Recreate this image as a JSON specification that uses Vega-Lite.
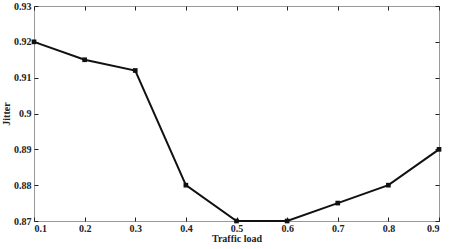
{
  "$schema": "https://vega.github.io/schema/vega-lite/v6.json",
  "width": 405,
  "height": 215,
  "autosize": {"type": "none"},
  "padding": {"left": 34, "top": 6, "right": 10, "bottom": 28},
  "background": "white",
  "data": {"values": [
    {"load": 0.1, "jitter": 0.920},
    {"load": 0.2, "jitter": 0.915},
    {"load": 0.3, "jitter": 0.912},
    {"load": 0.4, "jitter": 0.880},
    {"load": 0.5, "jitter": 0.870},
    {"load": 0.6, "jitter": 0.870},
    {"load": 0.7, "jitter": 0.875},
    {"load": 0.8, "jitter": 0.880},
    {"load": 0.9, "jitter": 0.890}
  ]},
  "config": {
    "view": {"stroke": "#999999", "strokeWidth": 1},
    "axis": {
      "grid": false, "domain": false, "tickColor": "#222", "tickSize": -4,
      "labelFont": "Liberation Serif", "labelFontWeight": "bold", "labelFontSize": 10, "labelColor": "#222",
      "titleFont": "Liberation Serif", "titleFontWeight": "bold", "titleFontSize": 10, "titleColor": "#222"
    }
  },
  "encoding": {
    "x": {"field": "load", "type": "quantitative", "scale": {"domain": [0.1, 0.9], "nice": false, "zero": false}},
    "y": {"field": "jitter", "type": "quantitative", "scale": {"domain": [0.87, 0.93], "nice": false, "zero": false}}
  },
  "layer": [
    {
      "mark": {"type": "line", "color": "#111", "strokeWidth": 2, "point": {"shape": "square", "size": 22, "filled": true, "color": "#111"}},
      "encoding": {
        "x": {"field": "load", "type": "quantitative", "scale": {"domain": [0.1, 0.9], "nice": false, "zero": false},
          "axis": {"title": "Traffic load", "values": [0.1,0.2,0.3,0.4,0.5,0.6,0.7,0.8,0.9], "labelPadding": 6, "titlePadding": 0, "format": ".1~f"}},
        "y": {"field": "jitter", "type": "quantitative", "scale": {"domain": [0.87, 0.93], "nice": false, "zero": false},
          "axis": {"title": "Jitter", "values": [0.87,0.88,0.89,0.9,0.91,0.92,0.93], "labelPadding": 7, "titlePadding": 2, "format": ".2~f"}}
      }
    },
    {
      "mark": {"type": "point", "opacity": 0},
      "encoding": {
        "x": {"field": "load", "type": "quantitative", "axis": {"orient": "top", "labels": false, "title": null, "values": [0.1,0.2,0.3,0.4,0.5,0.6,0.7,0.8,0.9]}},
        "y": {"field": "jitter", "type": "quantitative", "axis": {"orient": "right", "labels": false, "title": null, "values": [0.87,0.88,0.89,0.9,0.91,0.92,0.93]}}
      }
    }
  ],
  "resolve": {"axis": {"x": "independent", "y": "independent"}}
}
